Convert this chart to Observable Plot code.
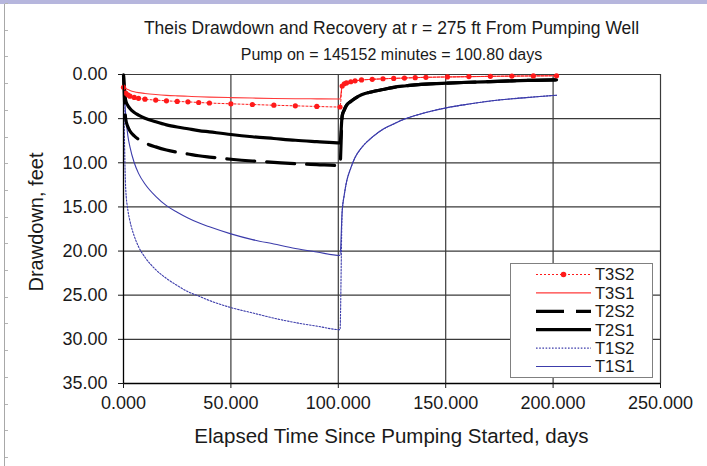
<!DOCTYPE html>
<html><head><meta charset="utf-8">
<script src="https://cdn.jsdelivr.net/npm/d3@7"></script>
<script src="https://cdn.jsdelivr.net/npm/@observablehq/plot@0.6"></script>
<style>
html,body{margin:0;padding:0;background:#fff;}
#wrap{position:relative;width:707px;height:466px;overflow:hidden;font-family:"Liberation Sans",Arial,sans-serif;color:#1a1a1a;}
#topbar{position:absolute;left:0;top:0;width:707px;height:4px;background:#b6b6dd;}
#ruler{position:absolute;left:4px;top:4px;width:1px;height:462px;background:#a8a8a8;}
.rt{position:absolute;left:5px;width:3px;height:1px;background:#b4b4b4;}
.ctr{position:absolute;left:0;width:783px;text-align:center;white-space:nowrap;line-height:1;}
#chart{position:absolute;left:0;top:0;}
#ylab{position:absolute;left:-114px;width:300px;text-align:center;line-height:1;transform:rotate(-90deg);white-space:nowrap;}
#legend{position:absolute;left:510px;top:263px;width:141px;height:113px;border:1px solid #808080;background:#fff;}
</style></head><body>
<div id="wrap">
  <div id="topbar"></div>
  <div id="ruler"></div>
  <div class="ctr" id="title" style="top:20px;font-size:17.5px;">Theis Drawdown and Recovery at r = 275 ft From Pumping Well</div>
  <div class="ctr" id="subtitle" style="top:47px;font-size:16px;">Pump on = 145152 minutes = 100.80 days</div>
  <div id="chart"></div>
  <div class="ctr" id="xlab" style="top:426px;font-size:20.5px;">Elapsed Time Since Pumping Started, days</div>
  <div id="ylab" style="top:212px;font-size:20px;">Drawdown, feet</div>
  <div id="legend"></div>
</div>
<script>
// ---- data ----
const days = [0.01, 1, 2, 3, 5, 7, 10, 15, 20, 25, 30, 35, 40, 50, 60, 70, 80, 90, 100.8,
  101.8, 102.8, 103.8, 105.8, 107.8, 110.8, 115.8, 120.8, 125.8, 130.8, 135.8, 140.8, 150.8, 160.8, 170.8, 180.8, 190.8, 201.6];

const T3S2 = [1.45, 2.1, 2.3, 2.45, 2.6, 2.7, 2.8, 2.9, 2.98, 3.05, 3.1, 3.17, 3.23, 3.32, 3.4, 3.48, 3.55, 3.62, 3.68,
  1.3, 1.05, 0.95, 0.82, 0.72, 0.62, 0.55, 0.48, 0.44, 0.4, 0.36, 0.32, 0.28, 0.24, 0.21, 0.18, 0.16, 0.14];
const T3S1 = [1.1, 1.55, 1.7, 1.8, 1.95, 2.05, 2.15, 2.27, 2.36, 2.42, 2.47, 2.52, 2.56, 2.62, 2.67, 2.71, 2.74, 2.76, 2.78,
  1.3, 1.05, 0.95, 0.82, 0.72, 0.62, 0.55, 0.48, 0.44, 0.4, 0.36, 0.32, 0.28, 0.24, 0.21, 0.18, 0.16, 0.14];
const T2S2 = [0.05, 5.0, 5.9, 6.4, 6.95, 7.35, 7.75, 8.2, 8.55, 8.8, 9.0, 9.2, 9.35, 9.6, 9.8, 9.95, 10.1, 10.2, 10.3,
  4.7, 4.0, 3.5, 3.05, 2.7, 2.3, 1.95, 1.7, 1.45, 1.3, 1.18, 1.08, 0.97, 0.88, 0.8, 0.72, 0.66, 0.6];
const T2S1 = [0.15, 2.9, 3.5, 3.85, 4.3, 4.6, 4.95, 5.35, 5.7, 5.95, 6.15, 6.35, 6.5, 6.8, 7.05, 7.25, 7.45, 7.6, 7.75,
  4.7, 4.0, 3.5, 3.05, 2.7, 2.3, 1.95, 1.7, 1.45, 1.3, 1.18, 1.08, 0.97, 0.88, 0.8, 0.72, 0.66, 0.6];
const T1S2 = [0.4, 12.8, 15.3, 16.6, 18.3, 19.5, 20.7, 22.1, 23.1, 23.9, 24.6, 25.1, 25.6, 26.4, 27.0, 27.6, 28.1, 28.5, 28.9,
  15.5, 13.6, 12.2, 10.6, 9.4, 8.3, 7.1, 6.2, 5.6, 5.05, 4.65, 4.3, 3.75, 3.35, 3.0, 2.75, 2.55, 2.35];
const T1S1 = [0.1, 4.5, 6.9, 8.2, 10.0, 11.2, 12.4, 13.8, 14.85, 15.6, 16.25, 16.8, 17.25, 18.05, 18.7, 19.2, 19.7, 20.1, 20.5,
  15.5, 13.6, 12.2, 10.6, 9.4, 8.3, 7.1, 6.2, 5.6, 5.05, 4.65, 4.3, 3.75, 3.35, 3.0, 2.75, 2.55, 2.35];

const seriesNames = ["T3S2", "T3S1", "T2S2", "T2S1", "T1S2", "T1S1"];
const seriesValues = {T3S2, T3S1, T2S2, T2S1, T1S2, T1S1};
const xTicks = [0, 50, 100, 150, 200, 250];
const yTicks = [0, 5, 10, 15, 20, 25, 30, 35];

// ---- styles ----
const RED = "#ff1a1a", BLUE = "#3c3cab";
const styles = {
  T3S2: {stroke: RED, strokeWidth: 1, strokeDasharray: "2,2", marker: true},
  T3S1: {stroke: "#ff3a3a", strokeWidth: 1.1},
  T2S2: {stroke: "#000", strokeWidth: 3.2, strokeDasharray: "28,12"},
  T2S1: {stroke: "#000", strokeWidth: 3.2},
  T1S2: {stroke: BLUE, strokeWidth: 1.1, strokeDasharray: "1.6,1.6"},
  T1S1: {stroke: BLUE, strokeWidth: 1.1}
};

const rows = name => days.map((t, i) => ({t, s: seriesValues[name][i], series: name}));
const drawOrder = ["T1S1", "T1S2", "T2S1", "T2S2", "T3S1", "T3S2"];

const marks = [
  Plot.gridY(yTicks, {stroke: "#3a3a3a", strokeOpacity: 1, strokeWidth: 1.2}),
  Plot.gridX(xTicks.slice(1), {stroke: "#3a3a3a", strokeOpacity: 1, strokeWidth: 1.2})
];
for (const name of drawOrder) {
  const st = styles[name];
  marks.push(Plot.line(rows(name), {x: "t", y: "s", curve: "monotone-x",
    stroke: st.stroke, strokeWidth: st.strokeWidth, strokeDasharray: st.strokeDasharray}));
  if (st.marker) marks.push(Plot.dot(rows(name), {x: "t", y: "s", r: 2.6, fill: st.stroke, stroke: "none"}));
}
marks.push(
  Plot.ruleX([0], {stroke: "#000", strokeWidth: 1.3}),
  Plot.ruleY([35], {stroke: "#000", strokeWidth: 1.3}),
  Plot.axisX({ticks: xTicks, tickFormat: d3.format(".3f"), tickSize: 5, tickPadding: 8, label: null}),
  Plot.axisY({ticks: yTicks, tickFormat: d3.format(".2f"), tickSize: 5, tickPadding: 11, label: null})
);

const chart = Plot.plot({
  width: 707, height: 466,
  marginLeft: 123, marginRight: 47, marginTop: 74, marginBottom: 83,
  style: {fontFamily: "Liberation Sans, Arial, sans-serif", fontSize: "18px", color: "#1a1a1a", background: "transparent", overflow: "visible"},
  x: {domain: [0, 250]},
  y: {domain: [0, 35], reverse: true},
  marks
});
document.getElementById("chart").appendChild(chart);

// ruler ticks on the left edge
const wrap = document.getElementById("wrap");
for (let y = 3; y < 466; y += 26.7) {
  const d = document.createElement("div");
  d.className = "rt"; d.style.top = y + "px"; wrap.appendChild(d);
}

// legend
const lg = d3.select("#legend");
const svg = lg.append("svg").attr("width", 141).attr("height", 113).style("position", "absolute").style("left", 0).style("top", 0);
seriesNames.forEach((name, i) => {
  const st = styles[name];
  const cy = 10.5 + i * 18.4;
  svg.append("line").attr("x1", 25).attr("x2", 80).attr("y1", cy).attr("y2", cy)
    .attr("stroke", st.stroke).attr("stroke-width", st.strokeWidth)
    .attr("stroke-dasharray", st.strokeDasharray || null);
  if (st.marker) svg.append("circle").attr("cx", 52.5).attr("cy", cy).attr("r", 2.8).attr("fill", st.stroke);
  svg.append("text").attr("x", 84).attr("y", cy).attr("dy", "0.36em")
    .attr("font-family", "Liberation Sans, Arial, sans-serif").attr("font-size", 16.5).attr("fill", "#1a1a1a").text(name);
});
</script>
</body></html>
